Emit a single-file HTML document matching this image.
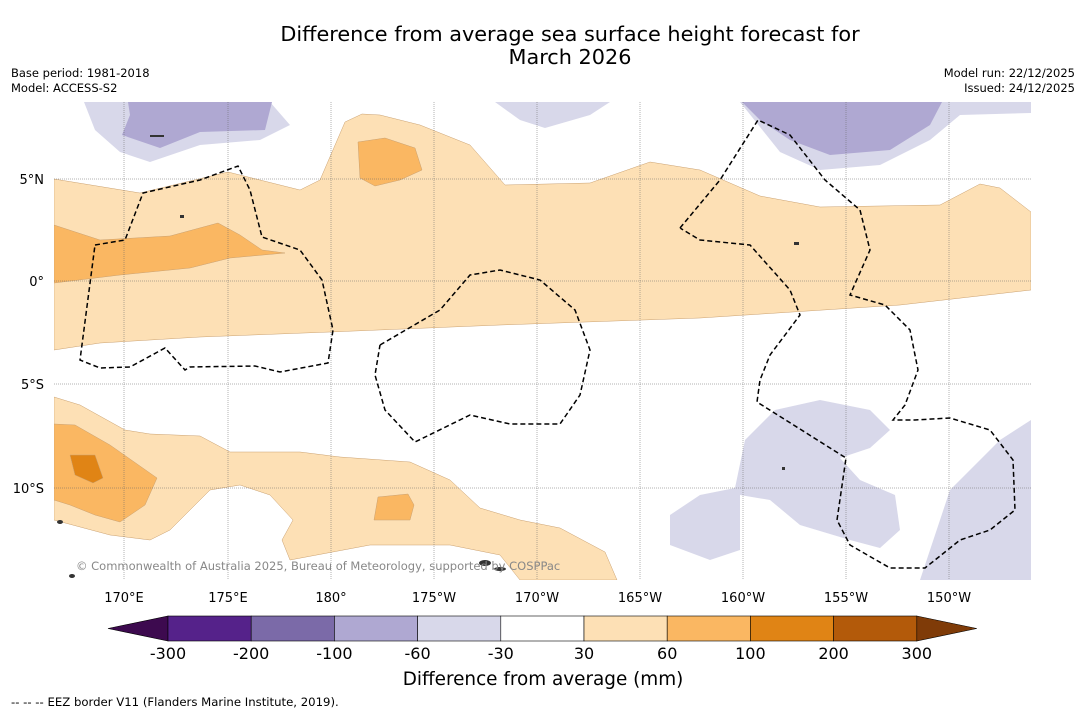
<!DOCTYPE html>
<html><head><meta charset="utf-8"><style>
body{margin:0;background:#fff;font-family:"DejaVu Sans",sans-serif;}
svg text{font-family:"DejaVu Sans",sans-serif;}
</style></head><body>
<svg width="1085" height="713" viewBox="0 0 1085 713">
<rect width="1085" height="713" fill="#fff"/>
<text x="570" y="41" font-size="20.8" text-anchor="middle">Difference from average sea surface height forecast for</text>
<text x="570" y="64" font-size="20.8" text-anchor="middle">March 2026</text>
<text x="11" y="77" font-size="11.5">Base period: 1981-2018</text>
<text x="11" y="92" font-size="11.5">Model: ACCESS-S2</text>
<text x="1075" y="77" font-size="11.5" text-anchor="end">Model run: 22/12/2025</text>
<text x="1075" y="92" font-size="11.5" text-anchor="end">Issued: 24/12/2025</text>
<defs><clipPath id="mc"><rect x="54" y="102" width="977" height="478"/></clipPath></defs>
<g clip-path="url(#mc)">
<g stroke="#c9a070" stroke-width="0.5">
<path fill="#fde0b5" d="M54,179 L140,193 L228,172 L300,190 L320,180 L345,122 L362,114 L380,115 L420,125 L470,145 L505,185 L590,183 L650,162 L700,170 L760,196 L820,207 L940,205 L980,184 L1000,188 L1031,212 L1031,290 L900,305 L700,318 L500,325 L330,332 L200,337 L100,343 L54,350 Z"/>
<path fill="#fab762" d="M54,225 L100,240 L170,236 L218,223 L240,235 L262,250 L285,253 L230,258 L190,268 L120,275 L54,283 Z"/>
<path fill="#fab762" d="M358,142 L385,138 L415,148 L422,170 L400,180 L375,186 L360,178 Z"/>
<path fill="#fde0b5" d="M54,397 L80,405 L125,430 L150,434 L200,436 L230,452 L300,452 L340,457 L410,462 L450,480 L480,508 L520,520 L560,528 L605,552 L617,580 L520,580 L500,555 L450,545 L370,545 L290,560 L282,540 L293,520 L270,495 L240,485 L210,490 L170,530 L150,540 L110,535 L54,520 Z"/>
<path fill="#fab762" d="M54,424 L75,425 L110,445 L157,478 L145,505 L120,522 L95,515 L70,505 L54,500 Z"/>
<path fill="#e08415" d="M70,455 L95,455 L103,478 L93,483 L75,475 Z"/>
<path fill="#fab762" d="M378,497 L408,494 L414,505 L410,520 L374,520 Z"/>
</g>
<g stroke="none">
<path fill="#d8d8ea" d="M84,102 L270,102 L290,125 L260,140 L200,145 L150,162 L120,152 L95,130 Z"/>
<path fill="#afa8d2" d="M128,102 L272,102 L265,130 L200,132 L160,148 L122,135 L130,115 Z"/>
<path fill="#d8d8ea" d="M495,102 L610,102 L590,115 L545,128 L520,120 Z"/>
<path fill="#d8d8ea" d="M740,102 L1031,102 L1031,113 L960,115 L930,140 L880,165 L820,170 L780,152 Z"/>
<path fill="#afa8d2" d="M742,102 L942,102 L930,125 L890,150 L830,155 L790,140 L760,120 Z"/>
<path fill="#d8d8ea" d="M745,440 L775,410 L820,400 L870,410 L890,430 L870,448 L840,458 L860,480 L895,495 L900,530 L880,548 L850,540 L800,525 L770,500 L740,495 L740,550 L710,560 L670,545 L670,515 L700,495 L735,488 Z"/>
<path fill="#d8d8ea" d="M920,580 L950,490 L1000,440 L1031,420 L1031,580 Z"/>
</g>
<g stroke="#666" stroke-width="0.5" stroke-dasharray="1,1">
<line x1="124" y1="102" x2="124" y2="580"/><line x1="228" y1="102" x2="228" y2="580"/><line x1="331" y1="102" x2="331" y2="580"/><line x1="434" y1="102" x2="434" y2="580"/><line x1="537" y1="102" x2="537" y2="580"/><line x1="640" y1="102" x2="640" y2="580"/><line x1="743" y1="102" x2="743" y2="580"/><line x1="846" y1="102" x2="846" y2="580"/><line x1="949" y1="102" x2="949" y2="580"/>
<line x1="54" y1="179" x2="1031" y2="179"/><line x1="54" y1="281" x2="1031" y2="281"/><line x1="54" y1="384" x2="1031" y2="384"/><line x1="54" y1="488" x2="1031" y2="488"/>
</g>
<g fill="none" stroke="#000" stroke-width="1.5" stroke-dasharray="5,3">
<path d="M95,245 L125,240 L143,193 L200,180 L238,166 L250,190 L262,237 L300,250 L322,280 L333,330 L328,363 L280,372 L255,366 L190,367 L185,370 L165,348 L130,367 L100,368 L80,360 L95,245"/>
<path d="M380,345 L440,310 L470,275 L500,270 L540,280 L575,310 L590,350 L580,395 L560,424 L510,424 L470,415 L415,442 L385,410 L375,375 L380,345"/>
<path d="M680,228 L720,180 L758,120 L790,135 L825,180 L860,210 L870,250 L850,295 L885,305 L910,330 L918,370 L905,405 L893,420 L915,420 L950,418 L990,430 L1013,460 L1015,510 L990,530 L960,540 L925,568 L890,568 L850,545 L837,520 L846,458 L757,402 L760,380 L770,355 L800,315 L790,290 L750,245 L700,240 L680,228"/>
</g>
<g fill="#333">
<ellipse cx="485" cy="563" rx="6" ry="3"/><ellipse cx="500" cy="569" rx="6" ry="2"/><ellipse cx="60" cy="522" rx="3" ry="2"/><ellipse cx="72" cy="576" rx="3" ry="2"/><rect x="150" y="135" width="14" height="2"/><rect x="794" y="242" width="5" height="3"/><rect x="180" y="215" width="4" height="3"/><rect x="782" y="467" width="3" height="3"/>
</g>
</g>
<g font-size="13" fill="#000">
<text x="44" y="184" text-anchor="end">5°N</text><text x="44" y="286" text-anchor="end">0°</text><text x="44" y="389" text-anchor="end">5°S</text><text x="44" y="493" text-anchor="end">10°S</text>
</g>
<g font-size="13" fill="#000" text-anchor="middle">
<text x="124" y="602">170°E</text><text x="228" y="602">175°E</text><text x="331" y="602">180°</text><text x="434" y="602">175°W</text><text x="537" y="602">170°W</text><text x="640" y="602">165°W</text><text x="743" y="602">160°W</text><text x="846" y="602">155°W</text><text x="949" y="602">150°W</text>
</g>
<text x="76" y="570" font-size="11.5" fill="#888">© Commonwealth of Australia 2025, Bureau of Meteorology, supported by COSPPac</text>
<g id="cbar"></g>
<text x="543" y="685" font-size="18.4" text-anchor="middle">Difference from average (mm)</text>
<text x="11" y="706" font-size="11.7">--  --  -- EEZ border V11 (Flanders Marine Institute, 2019).</text>
</svg>
<script>
const binColors = ["#55228a","#7b6aa8","#afa8d2","#d8d8ea","#ffffff","#fde0b5","#fab762","#e08415","#b35a0a"];
const tickLabels = ["-300","-200","-100","-60","-30","30","60","100","200","300"];
const ns="http://www.w3.org/2000/svg";
const g=document.getElementById('cbar');
const x0=168,w=83.2,y0=616,h=25;
function mk(t,a){const e=document.createElementNS(ns,t);for(const k in a)e.setAttribute(k,a[k]);g.appendChild(e);return e;}
let l=mk('polygon',{points:`108,${y0+h/2} ${x0},${y0} ${x0},${y0+h}`,fill:"#3d0a4f",stroke:"#000","stroke-width":0.6});


binColors.forEach((c,i)=>{const r=mk('rect',{x:x0+i*w,y:y0,width:w,height:h,fill:c,stroke:"#000","stroke-width":0.6});

});
const xe=x0+binColors.length*w;
let hi=mk('polygon',{points:`${xe},${y0} ${xe+60},${y0+h/2} ${xe},${y0+h}`,fill:"#7f3b08",stroke:"#000","stroke-width":0.6});


tickLabels.forEach((t,i)=>{const e=mk('text',{x:x0+i*w,y:659,"font-size":16,"text-anchor":"middle"});e.textContent=t;

});
</script>
</body></html>
